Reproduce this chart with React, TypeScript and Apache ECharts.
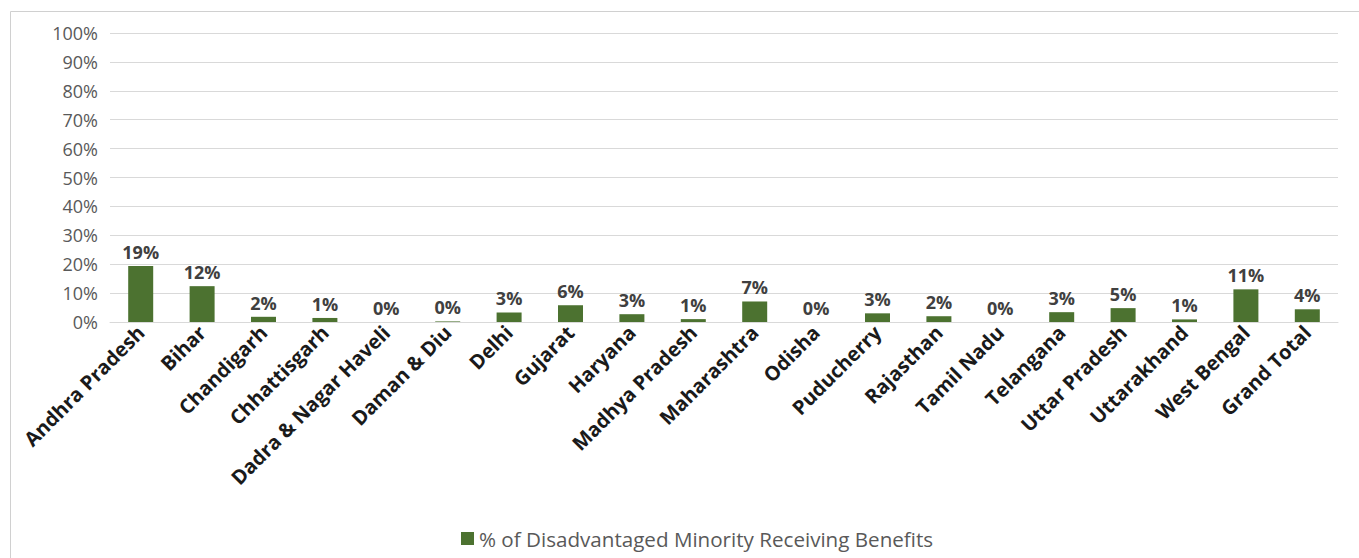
import React, { useEffect, useRef } from "react";
import * as echarts from "echarts";

const categories = [
  "Andhra Pradesh", "Bihar", "Chandigarh", "Chhattisgarh", "Dadra & Nagar Haveli",
  "Daman & Diu", "Delhi", "Gujarat", "Haryana", "Madhya Pradesh", "Maharashtra",
  "Odisha", "Puducherry", "Rajasthan", "Tamil Nadu", "Telangana", "Uttar Pradesh",
  "Uttarakhand", "West Bengal", "Grand Total",
];
const values = [
  0.194, 0.124, 0.018, 0.014, 0.0, 0.002, 0.033, 0.058, 0.027, 0.01, 0.071,
  0.0, 0.03, 0.02, 0.0, 0.034, 0.048, 0.009, 0.113, 0.044,
];
const seriesName = "% of Disadvantaged Minority Receiving Benefits";
const yTicks = { min: 0, max: 1, interval: 0.1 };

export default function App() {
  const ref = useRef<HTMLDivElement>(null);
  useEffect(() => {
    if (!ref.current) return;
    const chart = echarts.init(ref.current, null, { renderer: "svg" });
    const font = "'Open Sans', 'Liberation Sans', sans-serif";
    chart.setOption({
      animation: false,
      textStyle: { fontFamily: font },
      graphic: [
        {
          type: "rect",
          shape: { x: 10.5, y: 11.5, width: 1400, height: 600 },
          style: { fill: "none", stroke: "#d0d0d0", lineWidth: 1 },
          silent: true,
        },
      ],
      grid: { left: 110, right: 21, top: 33, bottom: 236, containLabel: false },
      legend: {
        top: 523,
        left: 456,
        itemWidth: 13,
        itemHeight: 13,
        icon: "rect",
        itemGap: 6,
        textStyle: { color: "#595959", fontSize: 20.6, fontFamily: font },
        data: [seriesName],
      },
      xAxis: {
        type: "category",
        data: categories,
        axisLine: { show: true, lineStyle: { color: "#d9d9d9", width: 1 } },
        axisTick: { show: false },
        axisLabel: {
          rotate: 45,
          interval: 0,
          color: "#1a1a1a",
          fontWeight: "bold",
          fontSize: 20,
          margin: 7,
          fontFamily: font,
        },
      },
      yAxis: {
        type: "value",
        min: yTicks.min,
        max: yTicks.max,
        interval: yTicks.interval,
        axisLine: { show: false },
        axisTick: { show: false },
        splitLine: { lineStyle: { color: "#d9d9d9", width: 1 } },
        axisLabel: {
          color: "#595959",
          fontSize: 18,
          margin: 12,
          fontFamily: font,
          formatter: (v: number) => `${Math.round(v * 100)}%`,
        },
      },
      series: [
        {
          name: seriesName,
          type: "bar",
          data: values,
          barWidth: 25,
          itemStyle: { color: "#4C7230" },
          label: {
            show: true,
            position: "top",
            distance: 5,
            color: "#404040",
            fontWeight: "bold",
            fontSize: 18,
            fontFamily: font,
            formatter: (p: any) => `${Math.round(p.value * 100)}%`,
          },
        },
      ],
    });
    return () => chart.dispose();
  }, []);
  return (
    <div
      ref={ref}
      style={{ position: "absolute", left: 0, top: 0, width: 1359, height: 558, background: "#fff" }}
    />
  );
}
